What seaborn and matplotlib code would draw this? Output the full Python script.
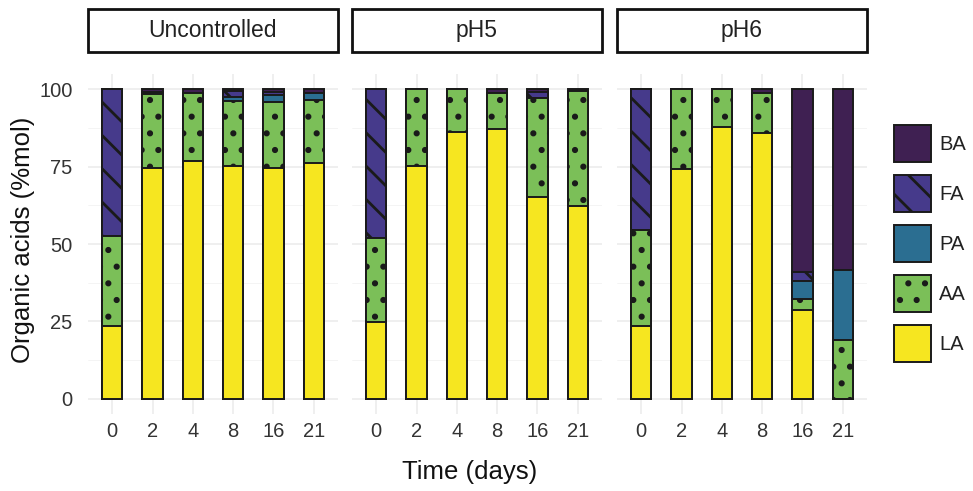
import numpy as np
import pandas as pd
import matplotlib
matplotlib.use("Agg")
import matplotlib.pyplot as plt
import seaborn as sns
from matplotlib.patches import Patch, Rectangle

# ---------------- data ----------------
days = ["0", "2", "4", "8", "16", "21"]
conditions = ["Uncontrolled", "pH5", "pH6"]
acids = ["BA", "FA", "PA", "AA", "LA"]          # legend order (top -> bottom)

LA_unc = [23.5, 74.5, 76.8, 75.3, 74.7, 76.2]
AA_unc = [29.0, 23.9, 22.0, 21.1, 21.3, 20.5]
PA_unc = [0.0, 0.3, 0.0, 1.3, 2.3, 2.1]
FA_unc = [47.5, 0.6, 0.0, 1.8, 1.0, 0.0]
BA_unc = [0.0, 0.7, 1.2, 0.5, 0.7, 1.2]

LA_ph5 = [24.8, 75.1, 86.2, 87.2, 65.2, 62.3]
AA_ph5 = [27.0, 24.9, 13.8, 11.8, 32.1, 37.2]
PA_ph5 = [0.0, 0.0, 0.0, 0.0, 0.0, 0.0]
FA_ph5 = [48.2, 0.0, 0.0, 0.0, 2.0, 0.0]
BA_ph5 = [0.0, 0.0, 0.0, 1.0, 0.7, 0.5]

LA_ph6 = [23.5, 74.4, 87.8, 86.0, 28.5, 0.0]
AA_ph6 = [31.1, 25.6, 12.2, 12.8, 3.6, 18.8]
PA_ph6 = [0.0, 0.0, 0.0, 0.0, 5.9, 22.8]
FA_ph6 = [45.4, 0.0, 0.0, 0.0, 2.8, 0.0]
BA_ph6 = [0.0, 0.0, 0.0, 1.2, 59.2, 58.4]

series = {
    "Uncontrolled": {"LA": LA_unc, "AA": AA_unc, "PA": PA_unc, "FA": FA_unc, "BA": BA_unc},
    "pH5": {"LA": LA_ph5, "AA": AA_ph5, "PA": PA_ph5, "FA": FA_ph5, "BA": BA_ph5},
    "pH6": {"LA": LA_ph6, "AA": AA_ph6, "PA": PA_ph6, "FA": FA_ph6, "BA": BA_ph6},
}

# ---------------- style ----------------
colors = {"BA": "#3f2052", "FA": "#463a8b", "PA": "#2b6e91", "AA": "#7bbf58", "LA": "#f6e620"}
hatches = {"BA": None, "FA": "\\", "PA": None, "AA": ".", "LA": None}
stack_order = ["LA", "AA", "PA", "FA", "BA"]     # bottom -> top

sns.set_theme(style="whitegrid")
plt.rcParams["font.family"] = ["Liberation Sans", "DejaVu Sans"]
plt.rcParams["hatch.linewidth"] = 2.0
plt.rcParams["hatch.color"] = "#111111"

W, H = 973, 491
fig = plt.figure(figsize=(W / 100, H / 100), dpi=100)
panel_x = [(88, 338), (352, 602), (617, 867)]
top_px, bot_px = 74, 414
edge = "#1a1a1a"
tick_fs = 14.5

for i, cond in enumerate(conditions):
    l, r = panel_x[i]
    ax = fig.add_axes([l / W, 1 - bot_px / H, (r - l) / W, (bot_px - top_px) / H])
    df = pd.DataFrame({"day": days})
    cum = np.zeros(len(days))
    for a in stack_order:
        cum = cum + np.array(series[cond][a])
        df["cum_" + a] = cum
    # draw cumulative bars from tallest (top segment) to shortest
    for a in reversed(stack_order):
        sns.barplot(data=df, x="day", y="cum_" + a, order=days, color=colors[a],
                    saturation=1, width=0.5, errorbar=None, edgecolor=edge,
                    linewidth=1.4, ax=ax)
        if hatches[a]:
            for p in ax.containers[-1]:
                p.set_hatch(hatches[a])
    ax.set_xlim(-0.6, 5.6)
    ax.set_ylim(-5, 105)
    ax.set_yticks([0, 25, 50, 75, 100])
    ax.set_yticks([12.5, 37.5, 62.5, 87.5], minor=True)
    ax.set_axisbelow(True)
    ax.xaxis.grid(True, which="major", color="#ebebeb", lw=1.1)
    ax.yaxis.grid(True, which="major", color="#ebebeb", lw=1.1)
    ax.yaxis.grid(True, which="minor", color="#f3f3f3", lw=0.6)
    for s in ax.spines.values():
        s.set_visible(False)
    ax.set_xlabel("")
    ax.set_ylabel("")
    ax.tick_params(axis="both", which="both", length=0, labelsize=tick_fs, colors="#333333")
    ax.tick_params(axis="x", pad=6)
    ax.tick_params(axis="y", pad=11)
    if i > 0:
        ax.tick_params(labelleft=False)
    h_ax = bot_px - top_px
    y_lo = (bot_px - 52) / h_ax
    y_hi = (bot_px - 8.5) / h_ax
    ax.add_patch(Rectangle((0, y_lo), 1, y_hi - y_lo, transform=ax.transAxes,
                           facecolor="white", edgecolor="#111111", lw=2.0, clip_on=False))
    ax.text(0.5, (y_lo + y_hi) / 2, cond, transform=ax.transAxes, ha="center", va="center",
            fontsize=16.5, color="#222222")

fig.text(470 / W, 1 - 472 / H, "Time (days)", ha="center", va="center", fontsize=18.5, color="#111111")
fig.text(23 / W, 1 - 240 / H, "Organic acids (%mol)", ha="center", va="center", rotation=90,
         fontsize=18.5, color="#111111")

handles = [Patch(facecolor=colors[a], edgecolor=edge, lw=1.4, hatch=hatches[a], label=a) for a in acids]
fs = 14.5
key_pt = 37 * 0.72
hh = (key_pt / fs - 0.245) / 0.65
leg = fig.legend(handles=handles, loc="center left", bbox_to_anchor=(894 / W, 1 - 243.5 / H),
                 frameon=False, fontsize=fs, handlelength=key_pt / fs, handleheight=hh,
                 labelspacing=13 * 0.72 / fs, handletextpad=8 * 0.72 / fs, borderpad=0,
                 borderaxespad=0)
for t in leg.get_texts():
    t.set_color("#222222")

fig.savefig("out.png", dpi=100, facecolor="white")
